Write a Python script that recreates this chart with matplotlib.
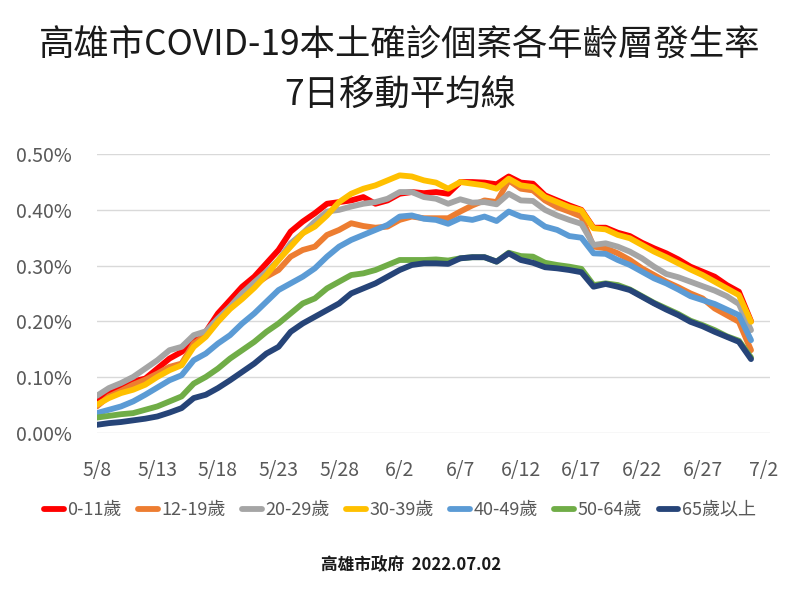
import pandas as pd
import matplotlib
matplotlib.use("Agg")
import matplotlib.pyplot as plt
from matplotlib.ticker import FuncFormatter

plt.rcParams["font.family"] = ["Noto Sans CJK TC", "DejaVu Sans"]

# daily 7-day moving average incidence (%), 5/8 .. 7/1
dates = pd.date_range("2022-05-08", periods=55, freq="D")
tick_dates = pd.date_range("2022-05-08", "2022-07-02", freq="5D")

age_0_11 = [
    0.054, 0.074, 0.083, 0.092, 0.097, 0.115, 0.133, 0.145, 0.166, 0.181, 0.214, 0.238, 0.262, 0.280,
    0.304, 0.328, 0.361, 0.379, 0.394, 0.411, 0.414, 0.417, 0.423, 0.411, 0.417, 0.429, 0.432, 0.430,
    0.432, 0.429, 0.450, 0.450, 0.449, 0.446, 0.460, 0.449, 0.447, 0.426, 0.417, 0.408, 0.400,
    0.368, 0.368, 0.359, 0.353, 0.341, 0.331, 0.322, 0.311, 0.298, 0.289, 0.280, 0.265, 0.253, 0.200,
]
age_12_19 = [
    0.047, 0.065, 0.075, 0.086, 0.095, 0.106, 0.118, 0.124, 0.160, 0.175, 0.200, 0.226, 0.250, 0.265,
    0.280, 0.292, 0.316, 0.328, 0.334, 0.355, 0.364, 0.376, 0.371, 0.368, 0.370, 0.382, 0.388, 0.385,
    0.385, 0.385, 0.397, 0.408, 0.417, 0.414, 0.453, 0.438, 0.435, 0.417, 0.405, 0.397, 0.388,
    0.334, 0.331, 0.322, 0.310, 0.295, 0.283, 0.271, 0.261, 0.250, 0.241, 0.223, 0.211, 0.199, 0.148,
]
age_20_29 = [
    0.066, 0.080, 0.089, 0.100, 0.115, 0.130, 0.148, 0.154, 0.175, 0.182, 0.205, 0.226, 0.250, 0.270,
    0.289, 0.310, 0.340, 0.358, 0.379, 0.397, 0.400, 0.406, 0.411, 0.414, 0.420, 0.432, 0.432, 0.423,
    0.420, 0.411, 0.419, 0.413, 0.414, 0.410, 0.429, 0.417, 0.416, 0.400, 0.390, 0.382, 0.375,
    0.337, 0.340, 0.334, 0.325, 0.313, 0.298, 0.285, 0.279, 0.271, 0.263, 0.255, 0.245, 0.231, 0.184,
]
age_30_39 = [
    0.050, 0.062, 0.071, 0.077, 0.086, 0.100, 0.112, 0.121, 0.154, 0.172, 0.199, 0.222, 0.240, 0.260,
    0.283, 0.310, 0.334, 0.358, 0.370, 0.390, 0.414, 0.429, 0.438, 0.444, 0.453, 0.462, 0.460, 0.453,
    0.449, 0.438, 0.450, 0.447, 0.444, 0.438, 0.456, 0.444, 0.441, 0.423, 0.414, 0.405, 0.399,
    0.367, 0.365, 0.355, 0.349, 0.337, 0.325, 0.315, 0.304, 0.293, 0.283, 0.271, 0.259, 0.247, 0.199,
]
age_40_49 = [
    0.035, 0.041, 0.047, 0.056, 0.068, 0.081, 0.094, 0.103, 0.130, 0.142, 0.160, 0.175, 0.196, 0.214,
    0.235, 0.256, 0.268, 0.280, 0.295, 0.316, 0.334, 0.346, 0.355, 0.364, 0.373, 0.388, 0.390, 0.384,
    0.382, 0.375, 0.385, 0.382, 0.388, 0.380, 0.397, 0.388, 0.385, 0.370, 0.364, 0.353, 0.350,
    0.322, 0.321, 0.310, 0.301, 0.289, 0.277, 0.268, 0.257, 0.245, 0.238, 0.231, 0.221, 0.211, 0.166,
]
age_50_64 = [
    0.027, 0.030, 0.033, 0.035, 0.041, 0.047, 0.056, 0.065, 0.088, 0.100, 0.115, 0.133, 0.148, 0.163,
    0.181, 0.196, 0.214, 0.232, 0.241, 0.259, 0.271, 0.283, 0.286, 0.292, 0.301, 0.310, 0.310, 0.310,
    0.311, 0.309, 0.313, 0.315, 0.315, 0.307, 0.323, 0.317, 0.316, 0.305, 0.301, 0.298, 0.294,
    0.265, 0.268, 0.265, 0.257, 0.245, 0.233, 0.223, 0.213, 0.201, 0.193, 0.184, 0.173, 0.165, 0.135,
]
age_65_up = [
    0.014, 0.017, 0.019, 0.022, 0.025, 0.029, 0.036, 0.044, 0.062, 0.068, 0.080, 0.094, 0.109, 0.124,
    0.142, 0.154, 0.181, 0.196, 0.208, 0.220, 0.232, 0.250, 0.259, 0.268, 0.280, 0.292, 0.301, 0.304,
    0.304, 0.303, 0.313, 0.315, 0.315, 0.307, 0.322, 0.310, 0.305, 0.297, 0.295, 0.292, 0.288,
    0.262, 0.267, 0.262, 0.256, 0.244, 0.232, 0.221, 0.211, 0.199, 0.191, 0.181, 0.172, 0.163, 0.132,
]

labels = ["0-11歲", "12-19歲", "20-29歲", "30-39歲", "40-49歲", "50-64歲", "65歲以上"]
series = [age_0_11, age_12_19, age_20_29, age_30_39, age_40_49, age_50_64, age_65_up]
colors = ["#FF0000", "#ED7D31", "#A5A5A5", "#FFC000", "#5B9BD5", "#70AD47", "#264478"]

fig = plt.figure(figsize=(8, 6), dpi=100)
ax = fig.add_axes([0.121, 0.279, 0.842, 0.464])

for vals, lbl, c in zip(series, labels, colors):
    ax.plot(dates, vals, color=c, lw=4.2, label=lbl, solid_capstyle="round")

ax.set_ylim(0, 0.5)
ax.set_yticks([0, 0.1, 0.2, 0.3, 0.4, 0.5])
ax.yaxis.set_major_formatter(FuncFormatter(lambda v, _: f"{v:.2f}%"))
ax.set_xlim(dates[0], dates[0] + pd.Timedelta(days=55.6))
ax.set_xticks(tick_dates)
ax.set_xticklabels([f"{d.month}/{d.day}" for d in tick_dates])

ax.grid(axis="y", color="#D9D9D9", lw=1)
ax.set_axisbelow(True)
for s in ax.spines.values():
    s.set_visible(False)
ax.tick_params(length=0, labelsize=14, colors="#595959")
ax.tick_params(axis="x", pad=20)
ax.tick_params(axis="y", pad=18)

fig.text(0.5, 0.925, "高雄市COVID-19本土確診個案各年齡層發生率", ha="center", va="center",
         fontsize=25.5, color="#1a1a1a")
fig.text(0.5, 0.842, "7日移動平均線", ha="center", va="center",
         fontsize=25.5, color="#1a1a1a")

ax.legend(loc="center", bbox_to_anchor=(0.5, 0.15), bbox_transform=fig.transFigure,
          ncol=7, frameon=False, fontsize=13, handlelength=1.1, handletextpad=0.2,
          columnspacing=0.9, labelcolor="#595959")

fig.text(0.514, 0.058, "高雄市政府  2022.07.02", ha="center", va="center",
         fontsize=12, fontweight="bold", color="#1a1a1a")

fig.savefig("out.png", dpi=100)
